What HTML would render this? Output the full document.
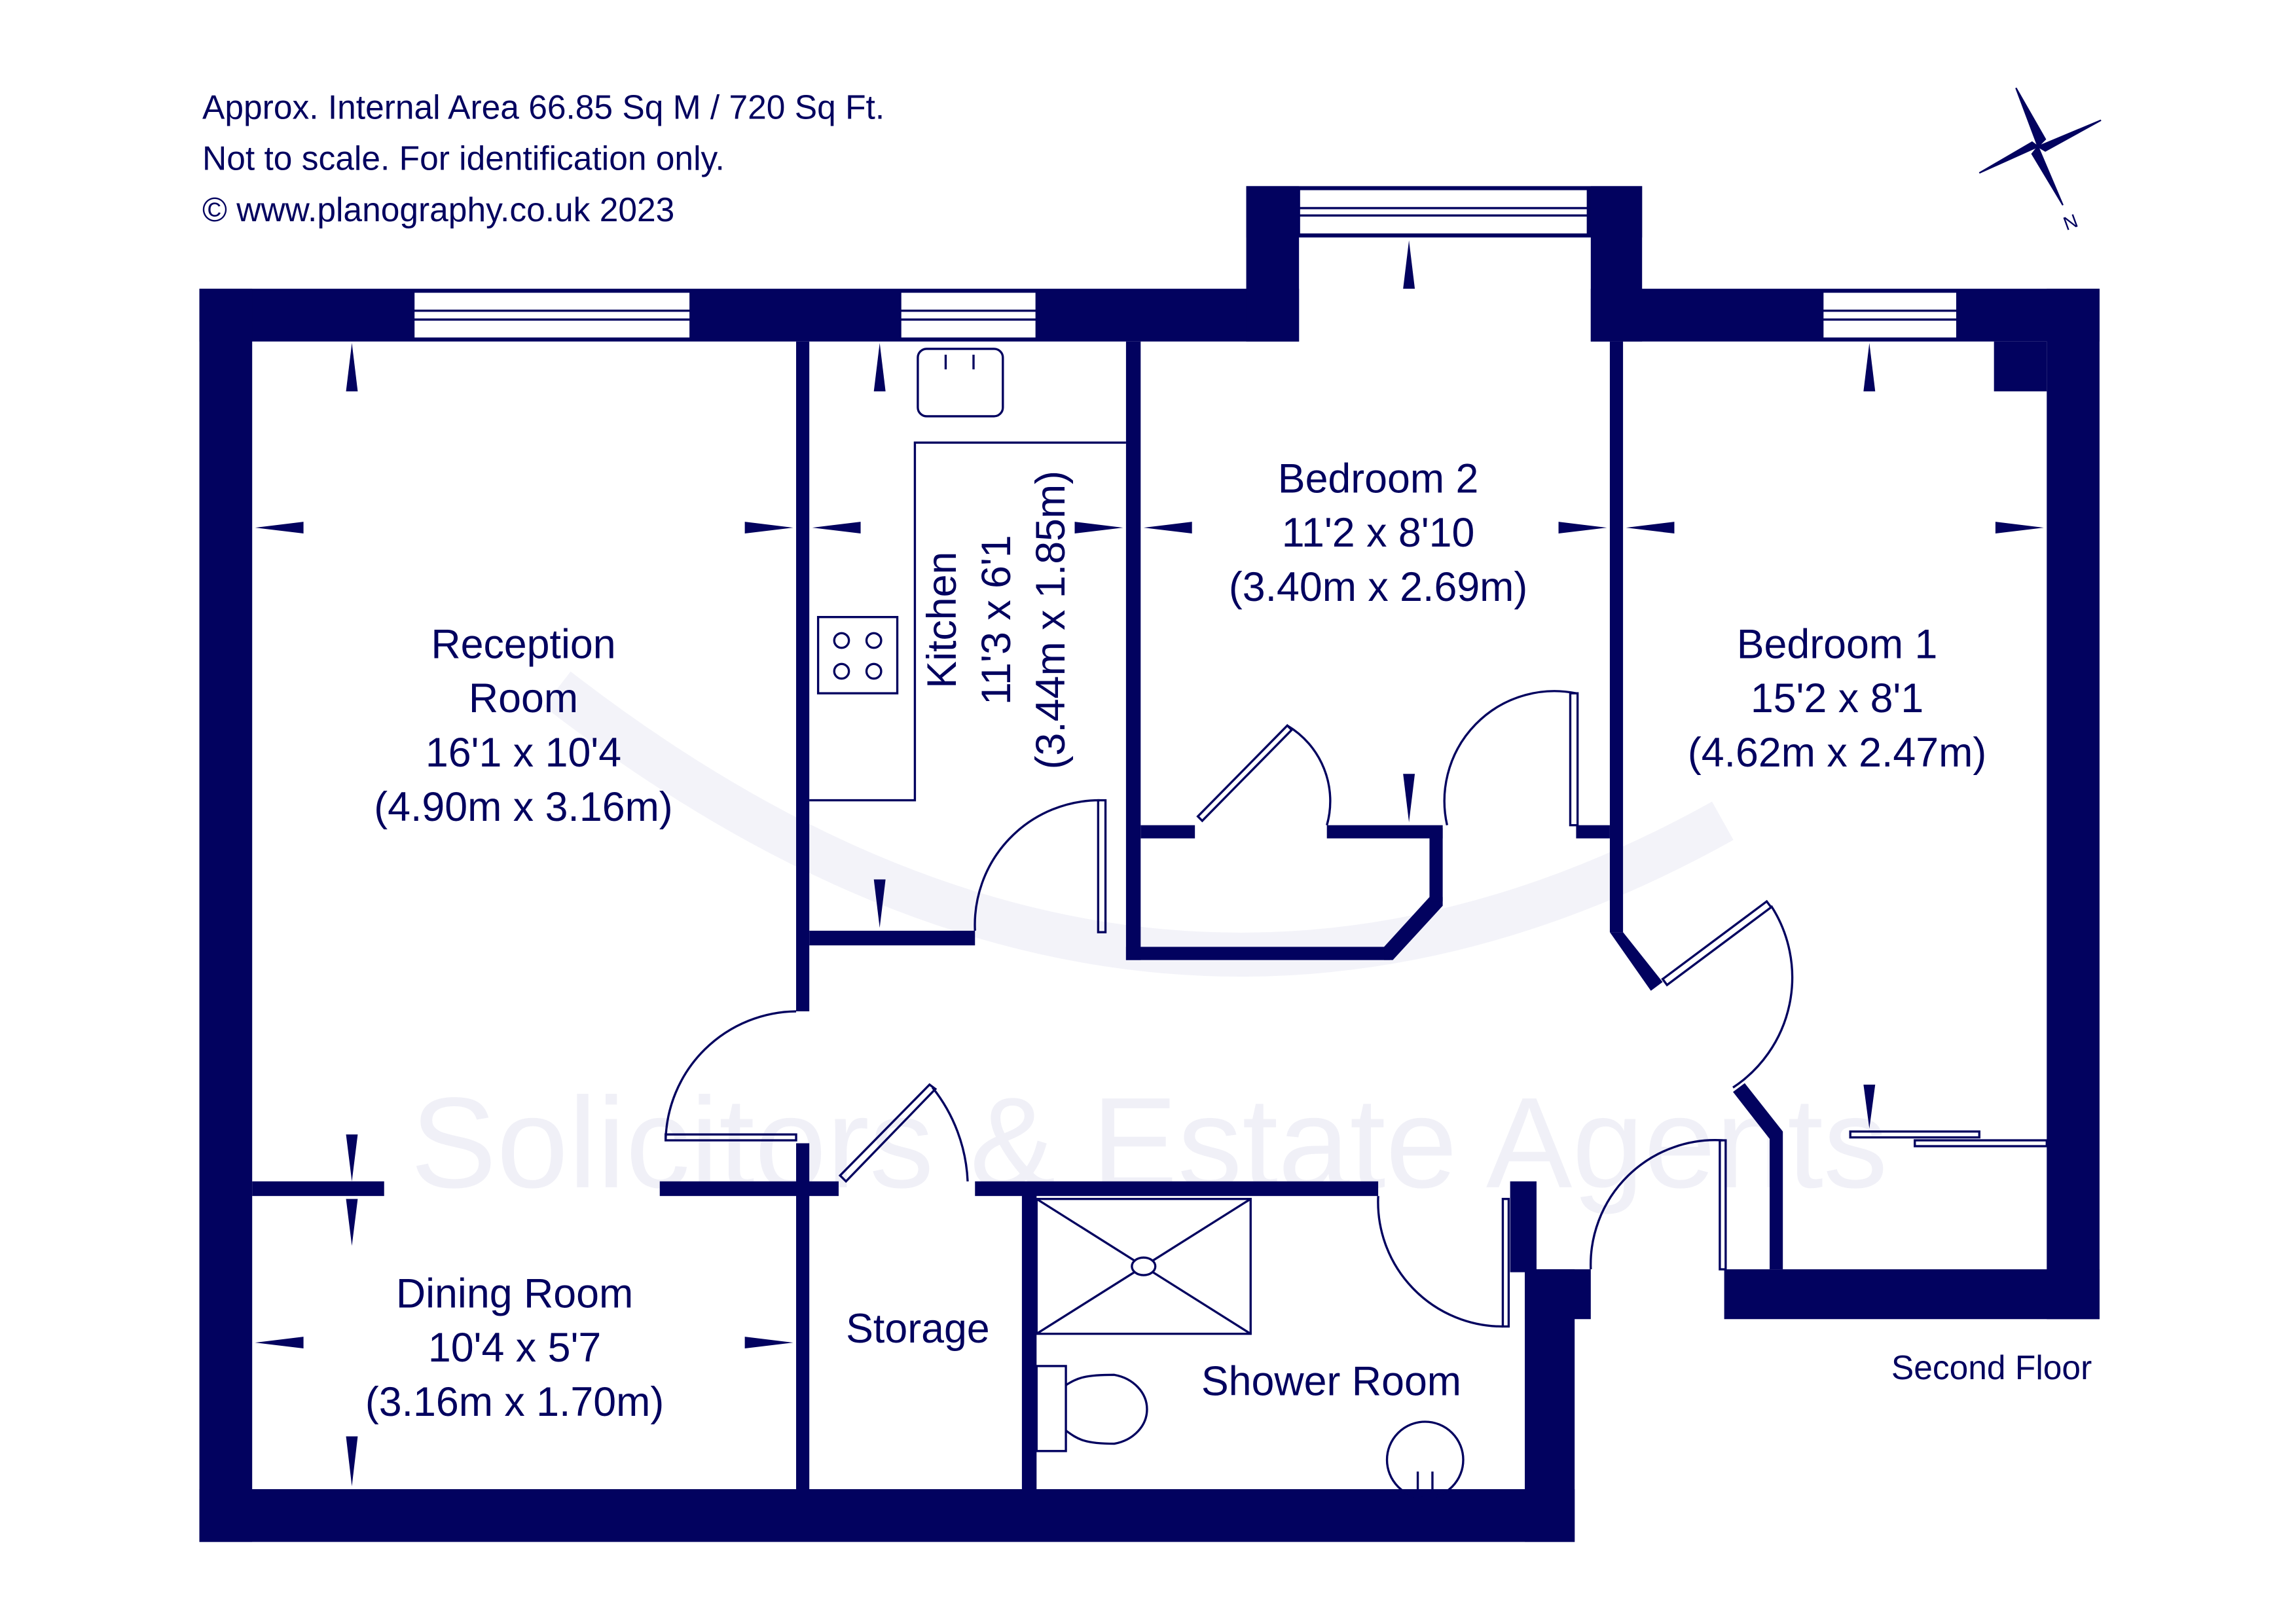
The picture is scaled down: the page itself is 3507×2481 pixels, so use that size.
<!DOCTYPE html>
<html><head><meta charset="utf-8"><style>
html,body{margin:0;padding:0;background:#fff;}
svg{display:block;}
text{font-family:"Liberation Sans",sans-serif;fill:#02025f;}
</style></head><body>
<svg width="3507" height="2481" viewBox="0 0 1566 1108" preserveAspectRatio="none" xmlns="http://www.w3.org/2000/svg">
<rect width="1566" height="1108" fill="#fff"/>
<!-- watermark -->
<text x="280" y="810" font-size="88" style="fill:#f0f0f7">Solicitors &amp; Estate Agents</text>
<path d="M380,470 Q780,780 1175,560" fill="none" stroke="#f3f3f9" stroke-width="30"/>
<g fill="#02025f">
<rect x="136" y="197" width="750" height="36"/>
<rect x="850" y="127" width="36" height="106"/>
<rect x="850" y="127" width="270" height="35"/>
<rect x="1085" y="127" width="35" height="106"/>
<rect x="1085" y="197" width="347" height="36"/>
<rect x="1396" y="197" width="36" height="703"/>
<rect x="1360" y="233" width="36" height="34"/>
<rect x="1176" y="866" width="256" height="34"/>
<rect x="136" y="197" width="36" height="855"/>
<rect x="136" y="1016" width="938" height="36"/>
<rect x="1040" y="866" width="34" height="186"/>
<rect x="1040" y="866" width="45" height="34"/>
<rect x="1030" y="806" width="18" height="62"/>
<rect x="543" y="233" width="9" height="457"/>
<rect x="768" y="233" width="10" height="422"/>
<rect x="1098" y="233" width="9" height="403"/>
<polygon points="1098,636 1107,636 1134,670 1126,676"/>
<rect x="552" y="635" width="113" height="10"/>
<rect x="768" y="646" width="180" height="9"/>
<polygon points="944,646 975,612 984,612 984,618 950,655 944,655"/>
<rect x="975" y="565" width="9" height="50"/>
<rect x="778" y="563" width="37" height="9"/>
<rect x="905" y="563" width="79" height="9"/>
<rect x="1075" y="563" width="23" height="9"/>
<rect x="172" y="806" width="90" height="10"/>
<rect x="450" y="806" width="122" height="10"/>
<rect x="543" y="780" width="9" height="236"/>
<rect x="697" y="808" width="10" height="208"/>
<rect x="665" y="806" width="275" height="10"/>
<polygon points="1182,745 1190,739 1216,772 1216,866 1207,866 1207,777"/>
</g>
<g fill="#fff" stroke="#02025f" stroke-width="1.5">
<rect x="282" y="199" width="189" height="32"/><line x1="282" y1="212" x2="471" y2="212"/><line x1="282" y1="218" x2="471" y2="218"/>
<rect x="614" y="199" width="93" height="32"/><line x1="614" y1="212" x2="707" y2="212"/><line x1="614" y1="218" x2="707" y2="218"/>
<rect x="886" y="129" width="197" height="31"/><line x1="886" y1="142" x2="1083" y2="142"/><line x1="886" y1="147" x2="1083" y2="147"/>
<rect x="1243" y="199" width="92" height="32"/><line x1="1243" y1="212" x2="1335" y2="212"/><line x1="1243" y1="218" x2="1335" y2="218"/>
</g>
<g fill="none" stroke="#02025f" stroke-width="1.5">
<path d="M543,690 A90,90 0 0 0 454,778"/><rect x="454" y="774" width="89" height="4"/>
<path d="M665,635 A85,85 0 0 1 750,546"/><rect x="749" y="546" width="5" height="90"/>
<path d="M905,563 A60,60 0 0 0 878,495"/><polygon points="817,557 878,495 881,498 820,560"/>
<path d="M987,563 A75,75 0 0 1 1075,473"/><rect x="1071" y="473" width="5" height="90"/>
<path d="M1182,742 A90,90 0 0 0 1208,618"/><polygon points="1134,668 1205,615 1208,619 1137,672"/>
<path d="M660,806 A110,110 0 0 0 636,742"/><polygon points="573,802 634,740 638,743 577,806"/>
<path d="M940,816 A85,85 0 0 0 1025,905"/><rect x="1025" y="818" width="4" height="87"/>
<path d="M1085,866 A85,85 0 0 1 1175,778"/><rect x="1173" y="778" width="4" height="88"/>
<rect x="1262" y="772" width="88" height="4"/><rect x="1306" y="778" width="90" height="4"/>
<rect x="626" y="238" width="58" height="46" rx="6"/><line x1="645" y1="242" x2="645" y2="252"/><line x1="664" y1="242" x2="664" y2="252"/>
<polyline points="768,302 624,302 624,546 552,546"/>
<rect x="558" y="421" width="54" height="52"/>
<circle cx="574" cy="437" r="5"/><circle cx="596" cy="437" r="5"/><circle cx="574" cy="458" r="5"/><circle cx="596" cy="458" r="5"/>
<rect x="707" y="818" width="146" height="92"/><line x1="707" y1="818" x2="853" y2="910"/><line x1="853" y1="818" x2="707" y2="910"/>
<ellipse cx="780" cy="864" rx="8" ry="6" fill="#fff"/>
<rect x="707" y="932" width="20" height="58"/>
<path d="M727,945 C735,940 740,938 760,938 A28,24 0 0 1 760,985 C740,985 735,982 727,976"/>
<circle cx="972" cy="996" r="26"/><line x1="967" y1="1004" x2="967" y2="1016"/><line x1="977" y1="1004" x2="977" y2="1016"/>
</g>
<g fill="#02025f">
<polygon points="236,267 244,267 240,234"/><polygon points="236,774 244,774 240,806"/>
<polygon points="236,818 244,818 240,850"/><polygon points="236,980 244,980 240,1014"/>
<polygon points="174,360 207,356 207,364"/><polygon points="541,360 508,356 508,364"/>
<polygon points="554,360 587,356 587,364"/><polygon points="766,360 733,356 733,364"/>
<polygon points="780,360 813,356 813,364"/><polygon points="1096,360 1063,356 1063,364"/>
<polygon points="1109,360 1142,356 1142,364"/><polygon points="1394,360 1361,356 1361,364"/>
<polygon points="174,916 207,912 207,920"/><polygon points="541,916 508,912 508,920"/>
<polygon points="596,267 604,267 600,234"/><polygon points="596,600 604,600 600,633"/>
<polygon points="957,197 965,197 961,164"/><polygon points="957,528 965,528 961,561"/>
<polygon points="1271,267 1279,267 1275,234"/><polygon points="1271,740 1279,740 1275,770"/>
</g>
<g fill="#02025f" stroke="#02025f" stroke-width="1">
<polygon points="1390,100 1375,60 1395,95"/><polygon points="1390,100 1433,82 1395,103"/>
<polygon points="1390,100 1407,140 1386,105"/><polygon points="1390,100 1350,118 1386,97"/>
</g>
<text x="1407" y="156" font-size="13" transform="rotate(-20 1412 150)">N</text>
<g font-size="23">
<text x="138" y="81">Approx. Internal Area 66.85 Sq M / 720 Sq Ft.</text>
<text x="138" y="116">Not to scale. For identification only.</text>
<text x="138" y="151">© www.planography.co.uk 2023</text>
<text x="1290" y="941">Second Floor</text>
</g>
<g font-size="28" text-anchor="middle">
<text x="357" y="449">Reception</text><text x="357" y="486">Room</text>
<text x="357" y="523">16'1 x 10'4</text><text x="357" y="560">(4.90m x 3.16m)</text>
<text x="940" y="336">Bedroom 2</text><text x="940" y="373">11'2 x 8'10</text><text x="940" y="410">(3.40m x 2.69m)</text>
<text x="1253" y="449">Bedroom 1</text><text x="1253" y="486">15'2 x 8'1</text><text x="1253" y="523">(4.62m x 2.47m)</text>
<text x="351" y="892">Dining Room</text><text x="351" y="929">10'4 x 5'7</text><text x="351" y="966">(3.16m x 1.70m)</text>
<text x="626" y="916">Storage</text>
<text x="908" y="952">Shower Room</text>
<text transform="translate(652,423) rotate(-90)">Kitchen</text>
<text transform="translate(689,423) rotate(-90)">11'3 x 6'1</text>
<text transform="translate(726,423) rotate(-90)">(3.44m x 1.85m)</text>
</g>
</svg>
</body></html>
